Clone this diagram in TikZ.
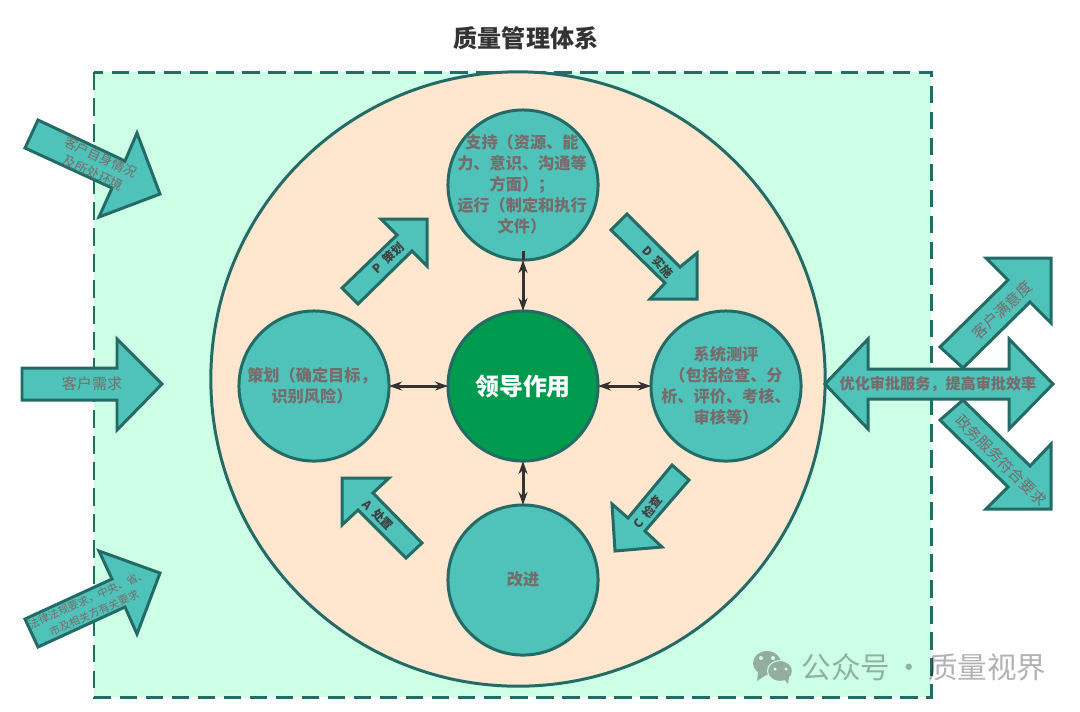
\documentclass[tikz,border=0pt]{standalone}
\usepackage{fontspec}
\setmainfont{Noto Sans CJK SC}
\usetikzlibrary{arrows.meta}
\definecolor{edgeteal}{HTML}{246B66}
\definecolor{fillteal}{HTML}{4FC3B9}
\definecolor{fillmint}{HTML}{CCFFE6}
\definecolor{fillpeach}{HTML}{FFE6CF}
\definecolor{fillgreen}{HTML}{009A4E}
\definecolor{labelgray}{HTML}{776C6C}
\definecolor{markgray}{HTML}{93AE9F}
\tikzset{
  bigarrow/.style={draw=edgeteal, fill=fillteal, line width=0.85pt},
  stagecircle/.style={circle, draw=edgeteal, fill=fillteal, line width=0.85pt, minimum size=1.5cm, inner sep=0pt, outer sep=0pt},
  stagelabel/.style={inner sep=0pt, align=center, text=labelgray, font=\fontsize{4.6}{5.97}\selectfont\bfseries},
  outerlabel/.style={inner sep=0pt, align=center, text=labelgray, font=\fontsize{4.3}{5.2}\selectfont},
  pdcalabel/.style={inner sep=0pt, text=black!75, font=\fontsize{3.4}{4}\selectfont\bfseries},
  linkarrow/.style={{Stealth[length=1.3mm,width=0.9mm]}-{Stealth[length=1.3mm,width=0.9mm]}, draw=black!80, line width=0.85pt},
}
\begin{document}
\begin{tikzpicture}[x=0.01cm, y=-0.01cm]
        \useasboundingbox (0, 0) rectangle (1080, 711);
        \node (title) at (526, 38) [text=black!80, font=\fontsize{6.85}{8}\selectfont\bfseries] {质量管理体系};
        \draw[draw=edgeteal, fill=fillmint, line width=0.85pt, dash pattern=on 5pt off 2.4pt] (94, 72) rectangle (931, 697);
        \node (system) at (518, 379) [circle, draw=edgeteal, fill=fillpeach, line width=0.85pt, minimum size=6.14cm] {};

        % inputs on the left
        \draw[bigarrow] (38, 120) -- (125, 161) -- (137, 133) -- (160, 194) -- (99, 217) -- (112, 188) -- (25, 148) -- cycle;
        \draw[bigarrow] (22, 368) -- (117, 368) -- (117, 339) -- (162, 384) -- (117, 430) -- (117, 400) -- (22, 400) -- cycle;
        \draw[bigarrow] (25, 619) -- (112, 579) -- (99, 551) -- (160, 573) -- (137, 634) -- (125, 607) -- (38, 647) -- cycle;
        \node (situation) at (97, 165) [outerlabel, rotate=-25, font=\fontsize{3.7}{4.9}\selectfont] {客户自身情况\\及所处环境};
        \node (demand) at (92, 384) [outerlabel] {客户需求};
        \node (legal) at (91, 606) [outerlabel, rotate=24, font=\fontsize{3.05}{4.3}\selectfont] {法律法规要求，中央、省、\\市及相关方有关要求};

        % outputs on the right
        \draw[bigarrow] (940, 347) -- (1008, 280) -- (986, 258) -- (1051, 258) -- (1051, 323) -- (1030, 302) -- (963, 368) -- cycle;
        \draw[bigarrow] (940, 420) -- (963, 400) -- (1030, 466) -- (1051, 444) -- (1051, 509) -- (986, 509) -- (1008, 487) -- cycle;
        \draw[bigarrow] (825, 384) -- (868, 339) -- (868, 369) -- (1009, 369) -- (1009, 339) -- (1053, 384) -- (1009, 429) -- (1009, 399) -- (868, 399) -- (868, 429) -- cycle;
        \node (satisfaction) at (1002, 310) [outerlabel, rotate=43] {客户满意度};
        \node (conform) at (1001, 460) [outerlabel, rotate=-45] {政务服务符合要求};
        \node (optimise) at (938, 384) [outerlabel, font=\fontsize{4.3}{5.2}\selectfont\bfseries] {优化审批服务，提高审批效率};

        % PDCA arrows
        \draw[bigarrow] (342, 288) -- (397, 235) -- (381, 219) -- (427, 219) -- (427, 266) -- (412, 251) -- (358, 304) -- cycle;
        \draw[bigarrow] (611, 230) -- (627, 214) -- (680, 267) -- (697, 253) -- (697, 299) -- (650, 299) -- (665, 283) -- cycle;
        \draw[bigarrow] (672, 465) -- (689, 480) -- (645, 531) -- (662, 547) -- (615, 551) -- (612, 504) -- (628, 518) -- cycle;
        \draw[bigarrow] (342, 478) -- (389, 478) -- (373, 493) -- (422, 543) -- (406, 558) -- (358, 510) -- (342, 525) -- cycle;
        \node (plan) at (388, 258) [pdcalabel, rotate=43] {P\ \ 策划};
        \node (do) at (658, 262) [pdcalabel, rotate=-45] {D\ \ 实施};
        \node (check) at (648, 512) [pdcalabel, rotate=50] {C\ \ 检查};
        \node (act) at (378, 515) [pdcalabel, rotate=-45] {A\ \ 处置};

        % circles
        \node (support) at (523, 185) [stagecircle] {};
        \node (planning) at (314, 386) [stagecircle] {};
        \node (review) at (726, 386) [stagecircle] {};
        \node (improve) at (523, 580) [stagecircle] {};
        \node (lead) at (523, 386) [stagecircle, fill=fillgreen] {};
        \node (supporttext) at (522, 184) [stagelabel] {支持（资源、能\\力、意识、沟通等\\方面）；\\运行（制定和执行\\文件）};
        \node (planningtext) at (312, 386) [stagelabel] {策划（确定目标，\\识别风险）};
        \node (reviewtext) at (726, 386) [stagelabel] {系统测评\\（包括检查、分\\析、评价、考核、\\审核等）};
        \node (improvetext) at (523, 579) [stagelabel] {改进};
        \node (leadtext) at (523, 386) [inner sep=0pt, text=white, font=\fontsize{6.8}{8}\selectfont\bfseries] {领导作用};

        \draw[linkarrow] (lead) -- (support);
        \draw[linkarrow] (lead) -- (improve);
        \draw[linkarrow] (lead) -- (planning);
        \draw[linkarrow] (lead) -- (review);
        \draw[draw=black!80, line width=0.85pt] (support.south) -- ++(0, -9);

        % mark at the bottom right
        \fill[markgray] (767, 663) ellipse (14 and 12);
        \fill[markgray] (758, 672) -- (757, 681) -- (766, 675) -- cycle;
        \fill[markgray, draw=fillmint, line width=0.3pt] (780, 671) ellipse (12.5 and 10.5);
        \fill[markgray] (784, 679) -- (788, 684) -- (789, 677) -- cycle;
        \fill[fillmint] (761, 658) circle (2) (773, 658) circle (2) (775, 669) circle (1.7) (786, 669) circle (1.7);
        \node (account) at (924, 667) [text=black, opacity=0.3, inner sep=0pt, font=\fontsize{8.4}{10}\selectfont] {公众号\hspace{1.2pt}·\hspace{1.2pt}质量视界};
\end{tikzpicture}
\end{document}
